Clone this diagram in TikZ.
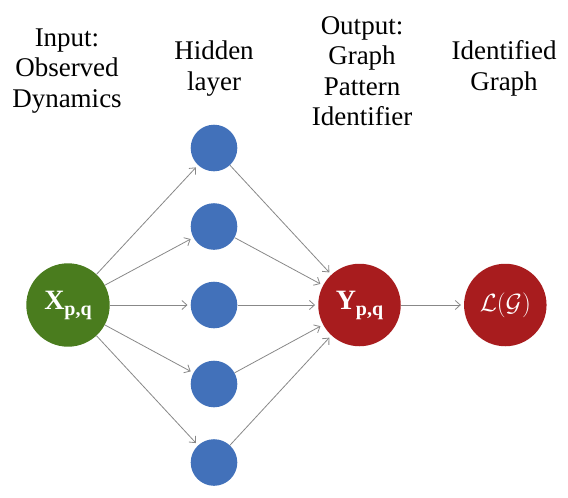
\documentclass[tikz,border=0pt]{standalone}
\usepackage{fontspec}
\setmainfont{Liberation Serif}
\usetikzlibrary{arrows.meta}
\definecolor{ingreen}{HTML}{4A7C1E}
\definecolor{outred}{HTML}{A81C1E}
\definecolor{hidblue}{HTML}{4271BA}
\definecolor{edgegray}{HTML}{888888}
\newcommand{\pqsub}{\raisebox{-6pt}{\fontsize{20}{20}\selectfont\textbf{p,q}}}
\tikzset{
  hid/.style={circle, fill=hidblue, draw=none, minimum size=46.6pt, inner sep=0pt},
  bigin/.style={circle, fill=ingreen, draw=none, minimum size=83.4pt, inner sep=0pt, text=white},
  bigout/.style={circle, fill=outred, draw=none, minimum size=82.5pt, inner sep=0pt, text=white},
  lbl/.style={align=center, font=\rmfamily\fontsize{27}{30.5}\selectfont, inner sep=0pt},
  conn/.style={draw=edgegray, line width=0.8pt, -{Straight Barb[length=5pt,width=9pt]}, shorten >=3pt}
}
\begin{document}
\begin{tikzpicture}[x=1pt,y=-1pt]
\useasboundingbox (0,0) rectangle (568,498);
\node[bigin] (X) at (68,305) {\fontsize{28}{28}\selectfont\textbf{X}\pqsub};
\node[hid] (h1) at (214,148) {};
\node[hid] (h2) at (214,226.5) {};
\node[hid] (h3) at (214,305) {};
\node[hid] (h4) at (214,384) {};
\node[hid] (h5) at (214,462.5) {};
\node[bigout] (Y) at (359.5,305) {\fontsize{28}{28}\selectfont\textbf{Y}\pqsub};
\node[bigout] (L) at (505.3,305) {\fontsize{28}{28}\selectfont$\mathcal{L}(\mathcal{G})$};
\foreach \i in {1,...,5}{
  \draw[conn] (X) -- (h\i);
  \draw[conn] (h\i) -- (Y);
}
\draw[conn] (Y) -- (L);
\node[lbl] (tin) at (67,71) {Input:\\Observed\\Dynamics};
\node[lbl] (thid) at (214,68.5) {Hidden\\layer};
\node[lbl] (tout) at (362,71) {Output:\\Graph\\Pattern\\Identifier};
\node[lbl] (tid) at (504,68.5) {Identified\\Graph};
\end{tikzpicture}
\end{document}
